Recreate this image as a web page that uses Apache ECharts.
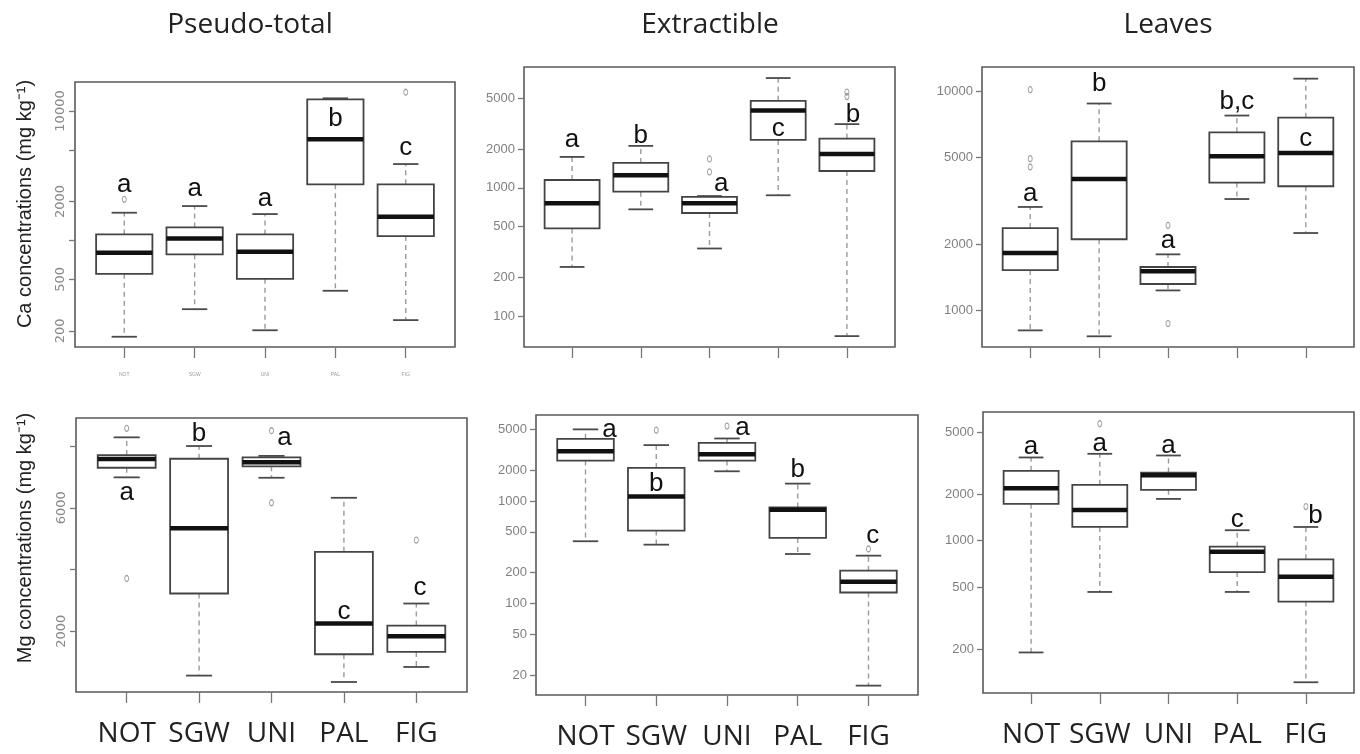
<!DOCTYPE html>
<html><head><meta charset="utf-8">
<script src="https://cdn.jsdelivr.net/npm/echarts@6/dist/echarts.min.js"></script>
<style>html,body{margin:0;padding:0;background:#fff}#c{width:1360px;height:754px}</style>
</head><body><div id="c"></div>
<script>
const categories = ['NOT','SGW','UNI','PAL','FIG'];
const panelTitles = ['Pseudo-total','Extractible','Leaves'];
const rowTitles = ['Ca concentrations (mg kg⁻¹)', 'Mg concentrations (mg kg⁻¹)'];

// boxes: [lower whisker, Q1, median, Q3, upper whisker] per category
const caPseudoTotal = [[180,552,802,1112,1636],[294,780,1036,1260,1842],[202,505,816,1112,1597],[408,2710,6040,12300,12530],[242,1080,1523,2710,3890]];
const caExtractible = [[242,483,757,1151,1741],[680,933,1253,1563,2122],[337,637,757,850,863],[875,2361,4000,4764,7163],[70,1352,1837,2420,3134]];
const caLeaves = [[813,1530,1828,2377,2965],[764,2113,3975,5900,8770],[1236,1322,1510,1580,1804],[3222,3828,5044,6486,7730],[2256,3683,5220,7563,11380]];
const mgPseudoTotal = [[6985,7296,7578,7708,8281],[563,3222,5340,7588,8000],[6972,7341,7471,7633,7680],[356,1254,2250,4572,6323],[842,1329,1838,2185,2898]];
const mgExtractible = [[405,2483,3062,4046,5000],[375,515,1109,2102,3509],[1950,2483,2864,3696,4075],[304,436,822,865,1478],[15.8,128,163,209,293]];
const mgLeaves = [[190,1730,2183,2825,3447],[467,1227,1581,2295,3640],[1862,2131,2650,2755,3550],[467,628,849,916,1169],[122,405,586,759,1227]];

// outliers: [category index, value]
const caPseudoTotalOut = [[0,2075],[4,13960]];
const caExtractibleOut = [[2,1680],[2,1330],[4,5570],[4,5140]];
const caLeavesOut = [[0,10140],[0,4920],[0,4508],[2,2446],[2,873]];
const mgPseudoTotalOut = [[0,8574],[0,3709],[2,8496],[2,6161],[4,4951]];
const mgExtractibleOut = [[1,4920],[2,5380],[4,340]];
const mgLeavesOut = [[1,5690],[4,1661]];

// significance letters and the data value they are written at
const caPseudoTotalLetters = ['a','a','a','b','c'];
const caPseudoTotalLetterAt = [2680,2520,2100,8650,5220];
const caExtractibleLetters = ['a','b','a','c','b'];
const caExtractibleLetterAt = [2350,2548,1077,2890,3705];
const caLeavesLetters = ['a','b','a','b,c','c'];
const caLeavesLetterAt = [3420,10760,2080,8910,6040];
const mgPseudoTotalLetters = ['a','b','a','c','c'];
const mgPseudoTotalLetterAt = [6485,8382,8266,2642,3411];
const mgExtractibleLetters = ['a','b','a','b','c'];
const mgExtractibleLetterAt = [5000,1472,5120,2032,460];
const mgLeavesLetters = ['a','a','a','c','b'];
const mgLeavesLetterAt = [4060,4195,4100,1362,1442];

// tick values
const caPseudoTotalTicks = [200,500,1000,2000,5000,10000];
const caPseudoTotalTickLabels = [200,500,2000,10000];
const caExtractibleTicks = [100,200,500,1000,2000,5000];
const caLeavesTicks = [1000,2000,5000,10000];
const mgPseudoTotalTicks = [2000,4000,6000,8000];
const mgPseudoTotalTickLabels = [2000,6000];
const mgExtractibleTicks = [20,50,100,200,500,1000,2000,5000];
const mgLeavesTicks = [200,500,1000,2000,5000];

const panels = [
  {box:caPseudoTotal,out:caPseudoTotalOut,let:caPseudoTotalLetters,at:caPseudoTotalLetterAt,shift:[0,0,0,0,0],ticks:caPseudoTotalTicks,labels:caPseudoTotalTickLabels,rect:[75,82,380,265],type:'log',min:150,max:16750,rot:true,bottom:'tiny'},
  {box:caExtractible,out:caExtractibleOut,let:caExtractibleLetters,at:caExtractibleLetterAt,shift:[0,0,0.17,0,0.09],ticks:caExtractibleTicks,labels:caExtractibleTicks,rect:[524,67,371,280],type:'log',min:57.6,max:8730,rot:false,bottom:'none'},
  {box:caLeaves,out:caLeavesOut,let:caLeavesLetters,at:caLeavesLetterAt,shift:[0,0,0,0,0],ticks:caLeavesTicks,labels:caLeavesTicks,rect:[982,67,372,280],type:'log',min:683,max:12860,rot:false,bottom:'none'},
  {box:mgPseudoTotal,out:mgPseudoTotalOut,let:mgPseudoTotalLetters,at:mgPseudoTotalLetterAt,shift:[0,0,0.18,0,0.05],ticks:mgPseudoTotalTicks,labels:mgPseudoTotalTickLabels,rect:[76,418,391,274],type:'value',min:31.5,max:8908,rot:true,bottom:'big'},
  {box:mgExtractible,out:mgExtractibleOut,let:mgExtractibleLetters,at:mgExtractibleLetterAt,shift:[0.34,0,0.22,0,0.06],ticks:mgExtractibleTicks,labels:mgExtractibleTicks,rect:[536,415,382,280],type:'log',min:12.8,max:6905,rot:false,bottom:'big'},
  {box:mgLeaves,out:mgLeavesOut,let:mgLeavesLetters,at:mgLeavesLetterAt,shift:[0,0,0,0,0.14],ticks:mgLeavesTicks,labels:mgLeavesTicks,rect:[983,412,371,281],type:'log',min:104,max:6776,rot:false,bottom:'big'}
];

const narrow = "'Liberation Sans Narrow','Arial Narrow','Liberation Sans',sans-serif";
const sans = "'Open Sans','Noto Sans',sans-serif";
const arial = "'Liberation Sans',Arial,sans-serif";

function renderBox(params, api) {
  const x = api.value(0);
  const lo = api.value(1), q1 = api.value(2), med = api.value(3), q3 = api.value(4), hi = api.value(5);
  const half = 0.4, cap = 0.18;
  const cx = api.coord([x, med])[0];
  const pL = api.coord([x - half, med])[0], pR = api.coord([x + half, med])[0];
  const cL = api.coord([x - cap, med])[0], cR = api.coord([x + cap, med])[0];
  const yLo = api.coord([x, lo])[1], yQ1 = api.coord([x, q1])[1], yMed = api.coord([x, med])[1];
  const yQ3 = api.coord([x, q3])[1], yHi = api.coord([x, hi])[1];
  const dash = {stroke:'#9a9a9a', lineWidth:1.4, lineDash:[5,4]};
  const capStyle = {stroke:'#4a4a4a', lineWidth:1.8};
  return {type:'group', children:[
    {type:'line', shape:{x1:cx,y1:yQ3,x2:cx,y2:yHi}, style:dash},
    {type:'line', shape:{x1:cx,y1:yQ1,x2:cx,y2:yLo}, style:dash},
    {type:'line', shape:{x1:cL,y1:yHi,x2:cR,y2:yHi}, style:capStyle},
    {type:'line', shape:{x1:cL,y1:yLo,x2:cR,y2:yLo}, style:capStyle},
    {type:'rect', shape:{x:pL,y:yQ3,width:pR-pL,height:yQ1-yQ3}, style:{fill:'#fff',stroke:'#444',lineWidth:1.8}},
    {type:'line', shape:{x1:pL,y1:yMed,x2:pR,y2:yMed}, style:{stroke:'#111',lineWidth:4.5}}
  ]};
}

const grid = [], xAxis = [], yAxis = [], series = [];
panels.forEach((p, k) => {
  grid.push({left:p.rect[0], top:p.rect[1], width:p.rect[2], height:p.rect[3], show:true, borderColor:'#5a5a5a', borderWidth:1.6, backgroundColor:'transparent'});
  let xl;
  if (p.bottom === 'big') xl = {show:true, customValues:[1,2,3,4,5], formatter:v=>categories[Math.round(v)-1], fontFamily:sans, fontSize:28, color:'#222', margin:28};
  else if (p.bottom === 'tiny') xl = {show:true, customValues:[1,2,3,4,5], formatter:v=>categories[Math.round(v)-1], fontFamily:narrow, fontSize:5, color:'#999', margin:25};
  else xl = {show:false};
  xAxis.push({type:'value', gridIndex:k, min:0.3, max:5.7, splitLine:{show:false}, axisLine:{show:false},
    axisTick:{show:true, customValues:[1,2,3,4,5], length:11, lineStyle:{color:'#777', width:1.3}},
    axisLabel:xl});
  const yl = p.rot
    ? {show:true, customValues:p.labels, formatter:v=>String(Math.round(v)), rotate:90, fontFamily:"'DejaVu Sans',sans-serif", fontSize:13, color:'#8a8a8a', margin:8}
    : {show:true, customValues:p.labels, formatter:v=>String(Math.round(v)), fontFamily:narrow, fontSize:13, color:'#808080', margin:9};
  yAxis.push({type:p.type, logBase:10, gridIndex:k, min:p.min, max:p.max, splitLine:{show:false}, axisLine:{show:false},
    axisTick:{show:true, customValues:p.ticks, length:6, lineStyle:{color:'#777', width:1.3}},
    axisLabel:yl});
  series.push({type:'custom', xAxisIndex:k, yAxisIndex:k, renderItem:renderBox, silent:true,
    encode:{x:0, y:[1,2,3,4,5]},
    data:p.box.map((b,i)=>[i+1].concat(b))});
  series.push({type:'scatter', xAxisIndex:k, yAxisIndex:k, silent:true, symbol:'circle', symbolSize:[4,6],
    itemStyle:{color:'rgba(255,255,255,0)', borderColor:'#8a8a8a', borderWidth:1.1},
    data:p.out.map(o=>[o[0]+1, o[1]])});
  series.push({type:'custom', xAxisIndex:k, yAxisIndex:k, silent:true, encode:{x:0,y:1},
    data:p.let.map((t,i)=>[i+1+p.shift[i], p.at[i]]),
    renderItem:(params, api)=>{
      const pt = api.coord([api.value(0), api.value(1)]);
      return {type:'text', x:pt[0], y:pt[1], style:{text:p.let[params.dataIndex], fontFamily:arial, fontSize:26, fill:'#111', align:'center', verticalAlign:'middle'}};
    }});
});

const graphic = [];
const titleX = [250, 710, 1168];
panelTitles.forEach((t,i)=>graphic.push({type:'text', x:titleX[i], y:25, silent:true,
  style:{text:t, fontFamily:sans, fontSize:28, fill:'#222', align:'center', verticalAlign:'middle'}}));
const rowY = [204, 538];
rowTitles.forEach((t,i)=>graphic.push({type:'text', x:25, y:rowY[i], rotation:Math.PI/2, silent:true,
  style:{text:t, fontFamily:arial, fontSize:20, fill:'#222', align:'center', verticalAlign:'middle'}}));

const chart = echarts.init(document.getElementById('c'), null, {renderer:'canvas'});
chart.setOption({animation:false, backgroundColor:'#fff', grid, xAxis, yAxis, series, graphic});
</script></body></html>
